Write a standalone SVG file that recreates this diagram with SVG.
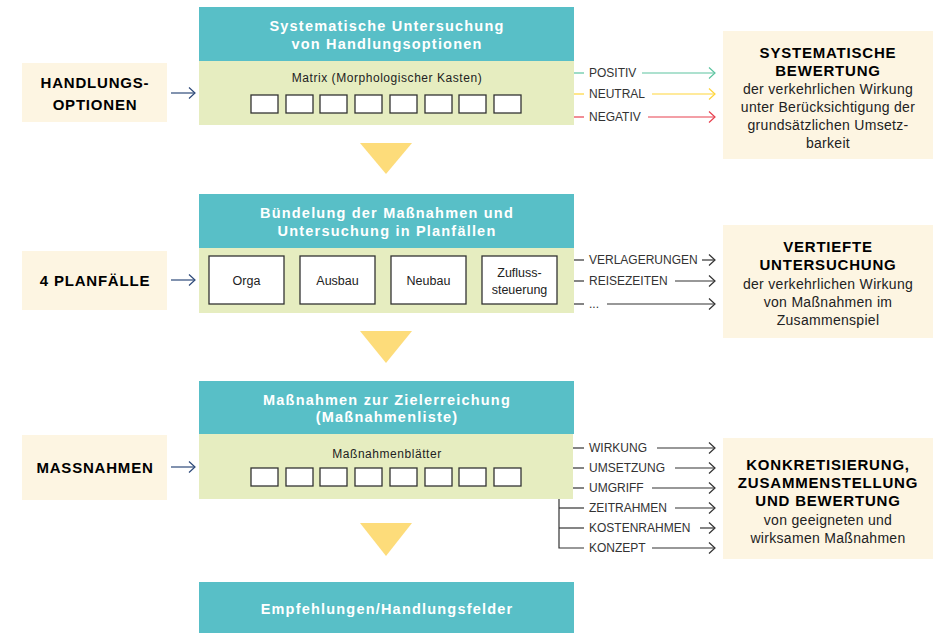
<svg xmlns="http://www.w3.org/2000/svg" width="933" height="633" viewBox="0 0 933 633">
<style>
.teal{fill:#58BFC7}
.green{fill:#E6EDC0}
.cream{fill:#FDF5E2}
.tri{fill:#FDDC7A}
.sq{fill:#fff;stroke:#333;stroke-width:1.3}
.hd{font-family:"Liberation Sans",Arial,sans-serif;font-weight:bold;font-size:14.5px;letter-spacing:1.2px;fill:#fff;text-anchor:middle}
.lt{font-family:"Liberation Sans",Arial,sans-serif;font-weight:bold;font-size:15px;letter-spacing:0.8px;fill:#000;text-anchor:middle}
.sub{font-family:"Liberation Sans",Arial,sans-serif;font-size:12px;letter-spacing:0.55px;fill:#222;text-anchor:middle}
.box{font-family:"Liberation Sans",Arial,sans-serif;font-size:12.5px;fill:#222;text-anchor:middle}
.rt{font-family:"Liberation Sans",Arial,sans-serif;font-size:14px;letter-spacing:0.3px;fill:#222;text-anchor:middle}
.lb{font-family:"Liberation Sans",Arial,sans-serif;font-size:12px;fill:#333}
.ln{fill:none;stroke-width:1.2}
.k{stroke:#333}
.g{stroke:#5CC4A0}
.y{stroke:#FFD53A}
.r{stroke:#E8404E}
.b{stroke:#2E4A7A}
</style>
<defs>
<marker id="ak" markerWidth="10" markerHeight="12" refX="8" refY="6" orient="auto" markerUnits="userSpaceOnUse"><polyline points="2,0.5 8,6 2,11.5" fill="none" stroke="#333" stroke-width="1.2"/></marker>
<marker id="ag" markerWidth="10" markerHeight="12" refX="8" refY="6" orient="auto" markerUnits="userSpaceOnUse"><polyline points="2,0.5 8,6 2,11.5" fill="none" stroke="#5CC4A0" stroke-width="1.2"/></marker>
<marker id="ay" markerWidth="10" markerHeight="12" refX="8" refY="6" orient="auto" markerUnits="userSpaceOnUse"><polyline points="2,0.5 8,6 2,11.5" fill="none" stroke="#FFD53A" stroke-width="1.2"/></marker>
<marker id="ar" markerWidth="10" markerHeight="12" refX="8" refY="6" orient="auto" markerUnits="userSpaceOnUse"><polyline points="2,0.5 8,6 2,11.5" fill="none" stroke="#E8404E" stroke-width="1.2"/></marker>
<marker id="ab" markerWidth="10" markerHeight="12" refX="8" refY="6" orient="auto" markerUnits="userSpaceOnUse"><polyline points="2,0.5 8,6 2,11.5" fill="none" stroke="#2E4A7A" stroke-width="1.2"/></marker>
</defs>
<rect width="933" height="633" fill="#fff"/>

<g id="block1">
<rect class="teal" x="199" y="7" width="375" height="54"/>
<rect class="green" x="199" y="61" width="375" height="64"/>
<text class="hd" x="387" y="31">Systematische Untersuchung</text>
<text class="hd" x="387" y="49">von Handlungsoptionen</text>
<text class="sub" x="387" y="82">Matrix (Morphologischer Kasten)</text>
<rect class="sq" x="251" y="95" width="27" height="18"/>
<rect class="sq" x="286" y="95" width="27" height="18"/>
<rect class="sq" x="320" y="95" width="27" height="18"/>
<rect class="sq" x="355" y="95" width="27" height="18"/>
<rect class="sq" x="390" y="95" width="27" height="18"/>
<rect class="sq" x="425" y="95" width="27" height="18"/>
<rect class="sq" x="459" y="95" width="27" height="18"/>
<rect class="sq" x="494" y="95" width="27" height="18"/>
</g>

<g id="block2">
<rect class="teal" x="199" y="194" width="375" height="54"/>
<rect class="green" x="199" y="248" width="375" height="65"/>
<text class="hd" x="387" y="218">Bündelung der Maßnahmen und</text>
<text class="hd" x="387" y="236">Untersuchung in Planfällen</text>
<rect class="sq" x="209" y="256" width="75" height="48"/>
<text class="box" x="246.5" y="285">Orga</text>
<rect class="sq" x="300" y="256" width="75" height="48"/>
<text class="box" x="337.5" y="285">Ausbau</text>
<rect class="sq" x="391" y="256" width="75" height="48"/>
<text class="box" x="428.5" y="285">Neubau</text>
<rect class="sq" x="482" y="256" width="75" height="48"/>
<text class="box" x="519.5" y="277">Zufluss-</text>
<text class="box" x="519.5" y="294">steuerung</text>
</g>

<g id="block3">
<rect class="teal" x="199" y="381" width="375" height="53"/>
<rect class="green" x="199" y="434" width="374" height="65"/>
<text class="hd" x="387" y="405">Maßnahmen zur Zielerreichung</text>
<text class="hd" x="387" y="422">(Maßnahmenliste)</text>
<text class="sub" x="387" y="458">Maßnahmenblätter</text>
<rect class="sq" x="251" y="468" width="27" height="18"/>
<rect class="sq" x="286" y="468" width="27" height="18"/>
<rect class="sq" x="320" y="468" width="27" height="18"/>
<rect class="sq" x="355" y="468" width="27" height="18"/>
<rect class="sq" x="390" y="468" width="27" height="18"/>
<rect class="sq" x="425" y="468" width="27" height="18"/>
<rect class="sq" x="459" y="468" width="27" height="18"/>
<rect class="sq" x="494" y="468" width="27" height="18"/>
</g>

<g id="block4">
<rect class="teal" x="199" y="582" width="375" height="51"/>
<text class="hd" x="387" y="614">Empfehlungen/Handlungsfelder</text>
</g>

<g id="tri1"><polygon class="tri" points="360,143 412,143 386,174"/></g>
<g id="tri2"><polygon class="tri" points="360,331 412,331 386,363"/></g>
<g id="tri3"><polygon class="tri" points="360,523 412,523 386,556"/></g>

<g id="left1">
<rect class="cream" x="22" y="63" width="145" height="59"/>
<text class="lt" x="95" y="88">HANDLUNGS-</text>
<text class="lt" x="95" y="110">OPTIONEN</text>
</g>
<g id="left2">
<rect class="cream" x="22" y="251" width="145" height="59"/>
<text class="lt" x="95" y="286">4 PLANFÄLLE</text>
</g>
<g id="left3">
<rect class="cream" x="22" y="435" width="145" height="65"/>
<text class="lt" x="95" y="473">MASSNAHMEN</text>
</g>

<g id="right1">
<rect class="cream" x="723" y="31" width="210" height="128"/>
<text class="lt" x="828" y="58">SYSTEMATISCHE</text>
<text class="lt" x="828" y="76">BEWERTUNG</text>
<text class="rt" x="828" y="94">der verkehrlichen Wirkung</text>
<text class="rt" x="828" y="112">unter Berücksichtigung der</text>
<text class="rt" x="828" y="130">grundsätzlichen Umsetz-</text>
<text class="rt" x="828" y="148">barkeit</text>
</g>
<g id="right2">
<rect class="cream" x="723" y="225" width="210" height="113"/>
<text class="lt" x="828" y="252">VERTIEFTE</text>
<text class="lt" x="828" y="270">UNTERSUCHUNG</text>
<text class="rt" x="828" y="289">der verkehrlichen Wirkung</text>
<text class="rt" x="828" y="307">von Maßnahmen im</text>
<text class="rt" x="828" y="325">Zusammenspiel</text>
</g>
<g id="right3">
<rect class="cream" x="723" y="438" width="210" height="121"/>
<text class="lt" x="828" y="470">KONKRETISIERUNG,</text>
<text class="lt" x="828" y="488">ZUSAMMENSTELLUNG</text>
<text class="lt" x="828" y="506">UND BEWERTUNG</text>
<text class="rt" x="828" y="525">von geeigneten und</text>
<text class="rt" x="828" y="543">wirksamen Maßnahmen</text>
</g>

<g id="connectors">
<line class="ln b" x1="171" y1="93" x2="195" y2="93" marker-end="url(#ab)"/>
<line class="ln b" x1="171" y1="280" x2="195" y2="280" marker-end="url(#ab)"/>
<line class="ln b" x1="171" y1="467" x2="195" y2="467" marker-end="url(#ab)"/>

<line class="ln g" x1="574" y1="73" x2="584" y2="73"/>
<text class="lb" x="589" y="77">POSITIV</text>
<line class="ln g" x1="642" y1="73" x2="715" y2="73" marker-end="url(#ag)"/>
<line class="ln y" x1="574" y1="94" x2="584" y2="94"/>
<text class="lb" x="589" y="98">NEUTRAL</text>
<line class="ln y" x1="652" y1="94" x2="715" y2="94" marker-end="url(#ay)"/>
<line class="ln r" x1="574" y1="117" x2="584" y2="117"/>
<text class="lb" x="589" y="121">NEGATIV</text>
<line class="ln r" x1="648" y1="117" x2="715" y2="117" marker-end="url(#ar)"/>

<line class="ln k" x1="574" y1="260" x2="584" y2="260"/>
<text class="lb" x="589" y="264">VERLAGERUNGEN</text>
<line class="ln k" x1="702" y1="260" x2="715" y2="260" marker-end="url(#ak)"/>
<line class="ln k" x1="574" y1="281" x2="584" y2="281"/>
<text class="lb" x="589" y="285">REISEZEITEN</text>
<line class="ln k" x1="675" y1="281" x2="715" y2="281" marker-end="url(#ak)"/>
<line class="ln k" x1="574" y1="304" x2="584" y2="304"/>
<text class="lb" x="589" y="308">...</text>
<line class="ln k" x1="607" y1="304" x2="715" y2="304" marker-end="url(#ak)"/>

<line class="ln k" x1="573" y1="448" x2="584" y2="448"/>
<text class="lb" x="589" y="452">WIRKUNG</text>
<line class="ln k" x1="657" y1="448" x2="715" y2="448" marker-end="url(#ak)"/>
<line class="ln k" x1="573" y1="468" x2="584" y2="468"/>
<text class="lb" x="589" y="472">UMSETZUNG</text>
<line class="ln k" x1="675" y1="468" x2="715" y2="468" marker-end="url(#ak)"/>
<line class="ln k" x1="573" y1="488" x2="584" y2="488"/>
<text class="lb" x="589" y="492">UMGRIFF</text>
<line class="ln k" x1="652" y1="488" x2="715" y2="488" marker-end="url(#ak)"/>
<polyline class="ln k" points="559,499 559,548 584,548"/>
<line class="ln k" x1="559" y1="508" x2="584" y2="508"/>
<text class="lb" x="589" y="512">ZEITRAHMEN</text>
<line class="ln k" x1="675" y1="508" x2="715" y2="508" marker-end="url(#ak)"/>
<line class="ln k" x1="559" y1="528" x2="584" y2="528"/>
<text class="lb" x="589" y="532">KOSTENRAHMEN</text>
<line class="ln k" x1="700" y1="528" x2="715" y2="528" marker-end="url(#ak)"/>
<text class="lb" x="589" y="552">KONZEPT</text>
<line class="ln k" x1="652" y1="548" x2="715" y2="548" marker-end="url(#ak)"/>
</g>
</svg>
